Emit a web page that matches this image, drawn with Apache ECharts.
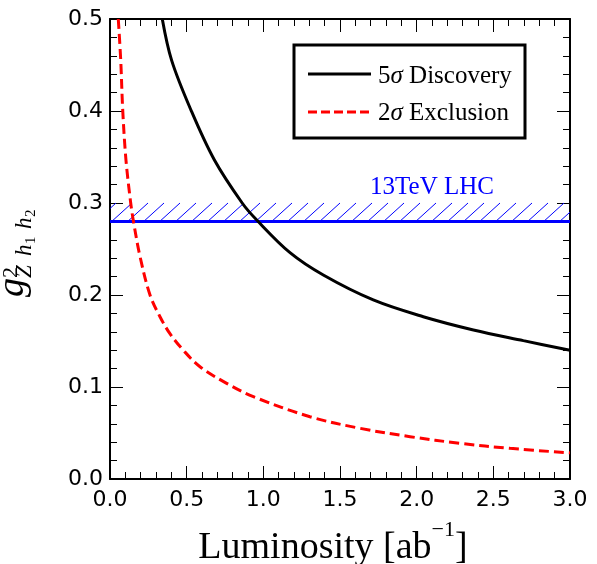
<!DOCTYPE html>
<html>
<head>
<meta charset="utf-8">
<script src="https://cdn.jsdelivr.net/npm/echarts@6/dist/echarts.min.js"></script>
<style>html,body{margin:0;padding:0;background:#fff;}#c{width:597px;height:564px;}</style>
</head>
<body>
<div id="c"></div>
<script>
// ---- data ----
var discoveryL = [0.341, 0.402, 0.528, 0.680, 0.862, 0.957, 1.174, 1.391, 1.717, 2.043, 2.370, 2.696, 3.0];
var discoveryV = [0.500, 0.455, 0.401, 0.347, 0.300, 0.2815, 0.246, 0.2217, 0.1946, 0.1764, 0.162, 0.1504, 0.140];
var exclusionL = [0.054, 0.070, 0.083, 0.104, 0.135, 0.152, 0.196, 0.261, 0.326, 0.391, 0.478, 0.587, 0.761, 0.935, 1.304, 1.630, 1.957, 2.283, 2.609, 3.0];
var exclusionV = [0.500, 0.455, 0.401, 0.347, 0.300, 0.281, 0.2417, 0.200, 0.1764, 0.158, 0.140, 0.122, 0.104, 0.0895, 0.0677, 0.0551, 0.046, 0.0388, 0.0333, 0.0284];
var lhcBand = [0.28, 0.30];        // hatched band: lower (solid line) and upper edge
var lhcRangeL = [0, 3];
var xTicks = [0, 0.5, 1.0, 1.5, 2.0, 2.5, 3.0];
var yTicks = [0, 0.1, 0.2, 0.3, 0.4, 0.5];
var legendNames = ['5σ Discovery', '2σ Exclusion'];
var bandLabel = '13TeV LHC';

function pairs(a, b) { return a.map(function (v, i) { return [v, b[i]]; }); }

var chart = echarts.init(document.getElementById('c'), null, { renderer: 'canvas' });

var SERIF = '"Liberation Serif", "Times New Roman", serif';
var SANS = '"DejaVu Sans", sans-serif';

function measure(text, font) {
  var ctx = document.createElement('canvas').getContext('2d');
  ctx.font = font;
  return ctx.measureText(text).width;
}

function axisCommon(showLabel, isX) {
  return {
    type: 'value',
    min: isX ? xTicks[0] : yTicks[0],
    max: isX ? xTicks[xTicks.length - 1] : yTicks[yTicks.length - 1],
    interval: isX ? 0.5 : 0.1,
    axisLine: { show: true, onZero: false, lineStyle: { color: '#000', width: 2 } },
    axisTick: { show: true, inside: true, length: 13, lineStyle: { color: '#000', width: 1 } },
    minorTick: { show: true, splitNumber: 5, length: 7, lineStyle: { color: '#000', width: 1 } },
    splitLine: { show: false },
    minorSplitLine: { show: false },
    axisLabel: {
      show: showLabel,
      color: '#000',
      fontFamily: SANS,
      fontSize: 22,
      margin: isX ? 10 : 7,
      formatter: function (v) { return v.toFixed(1); }
    }
  };
}

var xa0 = axisCommon(true, true); xa0.position = 'bottom';
var xa1 = axisCommon(false, true); xa1.position = 'top';
var ya0 = axisCommon(true, false); ya0.position = 'left';
var ya1 = axisCommon(false, false); ya1.position = 'right';

// x axis title pieces
var fMain = '38px ' + SERIF, fSup = '22px ' + SERIF;
var w1 = measure('Luminosity [ab', fMain), w2 = measure('\u22121', fSup), w3 = measure(']', fMain);
var xt0 = 333 - (w1 + w2 + w3) / 2;
var xBase = 559;

function txt(x, y, text, size, opts) {
  opts = opts || {};
  return {
    type: 'text', x: x, y: y,
    style: {
      text: text, fill: opts.fill || '#000',
      font: (opts.italic ? 'italic ' : '') + size + 'px ' + SERIF,
      align: opts.align || 'left', verticalAlign: 'middle'
    }
  };
}

var graphics = [
  txt(xt0, xBase - 0.3 * 38, 'Luminosity [ab', 38),
  txt(xt0 + w1, xBase - 22 - 0.3 * 22, '\u22121', 22),
  txt(xt0 + w1 + w2, xBase - 0.3 * 38, ']', 38),
  // y axis title g^2_{Z h1 h2}, rotated
  {
    type: 'group', x: 24, y: 297, rotation: Math.PI / 2,
    children: [
      txt(0, 0 - 0.3 * 38, 'g', 38, { italic: true }),
      txt(19, -6 - 0.3 * 22, '2', 22),
      txt(19, 8 - 0.3 * 23, 'Z', 23, { italic: true }),
      txt(41, 8 - 0.3 * 23, 'h', 23, { italic: true }),
      txt(53, 12 - 0.3 * 15, '1', 15),
      txt(68, 8 - 0.3 * 23, 'h', 23, { italic: true }),
      txt(80, 12 - 0.3 * 15, '2', 15)
    ]
  },
  // legend box
  { type: 'rect', shape: { x: 294, y: 45, width: 231, height: 93 }, style: { fill: '#fff', stroke: '#000', lineWidth: 3 }, z: 10 },
  { type: 'line', shape: { x1: 308, y1: 74, x2: 371, y2: 74 }, style: { stroke: '#000', lineWidth: 3 }, z: 11 },
  { type: 'line', shape: { x1: 308, y1: 112, x2: 371, y2: 112 }, style: { stroke: '#ff0000', lineWidth: 3, lineDash: [9, 4] }, z: 11 },
  {
    type: 'text', x: 378, y: 76, z: 11,
    style: {
      text: '{n|' + legendNames[0].charAt(0) + '}{s|σ}{n|' + legendNames[0].slice(2) + '}',
      verticalAlign: 'middle', align: 'left',
      rich: { n: { fontFamily: SERIF, fontSize: 25, fill: '#000' }, s: { fontFamily: SERIF, fontStyle: 'italic', fontSize: 25, fill: '#000' } }
    }
  },
  {
    type: 'text', x: 378, y: 113, z: 11,
    style: {
      text: '{n|' + legendNames[1].charAt(0) + '}{s|σ}{n|' + legendNames[1].slice(2) + '}',
      verticalAlign: 'middle', align: 'left',
      rich: { n: { fontFamily: SERIF, fontSize: 25, fill: '#000' }, s: { fontFamily: SERIF, fontStyle: 'italic', fontSize: 25, fill: '#000' } }
    }
  }
];

var option = {
  animation: false,
  backgroundColor: '#fff',
  grid: { left: 110, right: 27, top: 19, bottom: 85, containLabel: false },
  xAxis: [xa0, xa1],
  yAxis: [ya0, ya1],
  graphic: graphics,
  series: [
    {
      type: 'custom',
      xAxisIndex: 0, yAxisIndex: 0,
      data: [[lhcRangeL[0], lhcRangeL[1], lhcBand[0], lhcBand[1]]],
      z: 1,
      clip: false,
      renderItem: function (params, api) {
        var p0 = api.coord([api.value(0), api.value(2)]);
        var p1 = api.coord([api.value(1), api.value(3)]);
        var left = p0[0], right = p1[0], bottom = p0[1], top = p1[1];
        var h = bottom - top, dx = h * 1.1, step = 16;
        var kids = [];
        for (var xs = left - dx + 6; xs < right; xs += step) {
          var x1 = xs, y1 = bottom, x2 = xs + dx, y2 = top;
          if (x1 < left) { var t = (left - x1) / dx; x1 = left; y1 = bottom - t * h; }
          if (x2 > right) { var t2 = (x2 - right) / dx; x2 = right; y2 = top + t2 * h; }
          if (x2 <= x1) continue;
          kids.push({ type: 'line', shape: { x1: x1, y1: y1, x2: x2, y2: y2 }, style: { stroke: '#0000ff', lineWidth: 1 } });
        }
        var lp = api.coord([2.1, 0.317]);
        kids.push({
          type: 'text', x: lp[0], y: lp[1],
          style: { text: bandLabel, fill: '#0000ff', font: '25px ' + SERIF, align: 'center', verticalAlign: 'middle' }
        });
        return { type: 'group', children: kids };
      }
    },
    {
      type: 'line', name: 'LHC',
      data: [[lhcRangeL[0], lhcBand[0]], [lhcRangeL[1], lhcBand[0]]],
      showSymbol: false, symbol: 'none', z: 2,
      lineStyle: { color: '#0000ff', width: 3 }
    },
    {
      type: 'line', name: legendNames[0],
      data: pairs(discoveryL, discoveryV),
      smooth: 0.35,
      symbol: 'none', z: 3, clip: true,
      lineStyle: { color: '#000', width: 3 }
    },
    {
      type: 'line', name: legendNames[1],
      data: pairs(exclusionL, exclusionV),
      smooth: 0.35,
      symbol: 'none', z: 3, clip: true,
      lineStyle: { color: '#ff0000', width: 3, type: [10, 5] }
    }
  ]
};
chart.setOption(option);
</script>
</body>
</html>
